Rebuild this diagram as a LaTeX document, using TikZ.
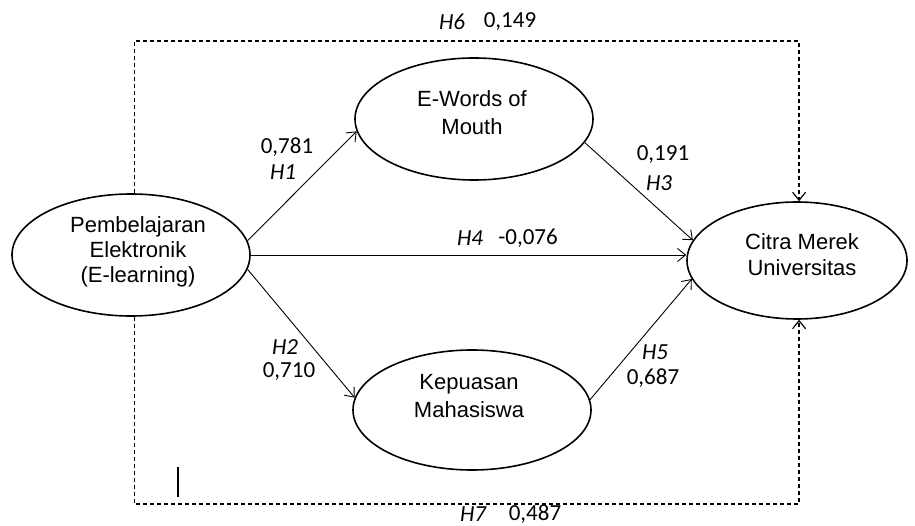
\documentclass[tikz,border=0pt]{standalone}
\usepackage{fontspec}
\setmainfont{Liberation Sans}
\newfontfamily\lblfont{Carlito}
\usetikzlibrary{arrows.meta,shapes.geometric}
\begin{document}
\begin{tikzpicture}[x=1pt,y=-1pt,
  ell/.style={draw,ellipse,line width=1.6pt,inner sep=0pt},
  ntext/.style={align=center,font=\fontsize{22}{26}\selectfont,inner sep=0pt},
  lbl/.style={inner sep=0pt,font=\lblfont\fontsize{23}{26}\selectfont},
  hyp/.style={inner sep=0pt,font=\lblfont\itshape\fontsize{23}{26}\selectfont},
  link/.style={line width=0.9pt,-{Straight Barb[length=8pt,width=13pt]}},
  dlink/.style={line width=1.2pt,dash pattern=on 4pt off 3pt,-{Straight Barb[length=8pt,width=13pt]}}
]
\useasboundingbox (0,0) rectangle (915,526);

% ellipses
\node[ell,minimum width=238pt,minimum height=122pt] (pe) at (131,255) {};
\node[ell,minimum width=238pt,minimum height=122pt] (ewom) at (474,119) {};
\node[ell,minimum width=238pt,minimum height=120pt] (km) at (472,410) {};
\node[ell,minimum width=220pt,minimum height=117pt] (cmu) at (797,260.5) {};

% ellipse texts
\node[ntext,font=\fontsize{22}{25}\selectfont] (pet) at (138,252) {Pembelajaran\\Elektronik\\(E-learning)};
\node[ntext,font=\fontsize{22}{28}\selectfont] (ewomt) at (472,113) {E-Words of\\Mouth};
\node[ntext,font=\fontsize{22}{28}\selectfont] (kmt) at (469,396) {Kepuasan\\Mahasiswa};
\node[ntext] (cmut) at (802,255) {Citra Merek\\Universitas};

% solid connectors
\draw[link] (pe.7) -- (ewom.186);
\draw[link] (pe.east) -- (pe.east -| cmu.west);
\draw[link] (pe.353) -- (km.174);
\draw[link] (ewom.348) -- (cmu.169);
\draw[link] (km.5) -- (cmu.190);

% dashed connectors
\coordinate (topy) at (0,41);
\coordinate (boty) at (0,504);
\draw[dlink] (pe.87) -- (pe.87 |- topy) -| (cmu.88);
\draw[dlink] (pe.273) -- (pe.273 |- boty) -| (cmu.272);

% small bar
\coordinate (bara) at (178,467);
\coordinate (barb) at (178,497);
\draw[line width=2pt] (bara) -- (barb);

% labels
\node[lbl] (v1) at (287,147) {0,781};
\node[hyp] (h1) at (283,172) {H1};
\node[hyp] (h6) at (452,22) {H6};
\node[lbl] (v6) at (510,22) {0,149};
\node[lbl] (v3) at (663,155) {0,191};
\node[hyp] (h3) at (659,183) {H3};
\node[hyp] (h4) at (470,238) {H4};
\node[lbl] (v4) at (528,238) {-0,076};
\node[hyp] (h2) at (285,347) {H2};
\node[lbl] (v2) at (289,372) {0,710};
\node[hyp] (h5) at (655,352) {H5};
\node[lbl] (v5) at (653,378) {0,687};
\node[hyp] (h7) at (473,514) {H7};
\node[lbl] (v7) at (535,514) {0,487};
\end{tikzpicture}
\end{document}
